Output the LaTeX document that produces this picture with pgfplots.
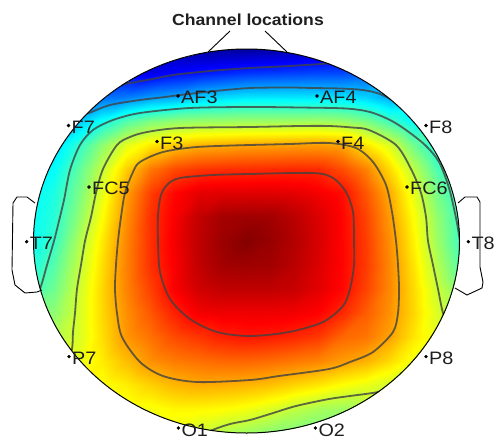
\documentclass[border=0pt]{standalone}
\usepackage{pgfplots}
\pgfplotsset{compat=1.18}
\usepackage{fontspec}
\setmainfont{Liberation Sans}[FakeStretch=1.1]
\definecolor{cline}{RGB}{65,65,65}
\definecolor{labtxt}{RGB}{30,30,30}
\begin{document}
\begin{tikzpicture}
\clip (0,0) rectangle (495pt,439pt);
\pgfplotsset{headaxis/.style={scale only axis, width=495pt, height=439pt,
  xmin=0, xmax=495, ymin=0, ymax=439, y dir=reverse, hide axis,
  at={(0,0)}, anchor=south west},
  cl/.style={draw=cline, line width=1.8pt, draw opacity=0.8, smooth, no marks}}
\begin{axis}[headaxis, colormap/jet, point meta min=0, point meta max=1]
\clip (axis cs:246.5,241) ellipse [x radius=213, y radius=192];
\addplot[surf, shader=interp, mesh/cols=19, point meta=explicit] coordinates {
(30,49) [0.08] (54,49) [0.08] (78,49) [0.08] (102,49) [0.08] (126,49) [0.08] (150,49) [0.05] (174,49) [0.04] (198,49) [0.03] (222,49) [0.03] (246,49) [0.03] (270,49) [0.035] (294,49) [0.045] (318,49) [0.06] (342,49) [0.08] (366,49) [0.12] (390,49) [0.15] (414,49) [0.15] (438,49) [0.15] (462,49) [0.15]
(30,73) [0.2] (54,73) [0.2] (78,73) [0.2] (102,73) [0.16] (126,73) [0.12] (150,73) [0.105] (174,73) [0.131] (198,73) [0.145] (222,73) [0.161] (246,73) [0.176] (270,73) [0.182] (294,73) [0.188] (318,73) [0.194] (342,73) [0.196] (366,73) [0.21] (390,73) [0.25] (414,73) [0.28] (438,73) [0.3] (462,73) [0.3]
(30,97) [0.28] (54,97) [0.28] (78,97) [0.26] (102,97) [0.23] (126,97) [0.245] (150,97) [0.275] (174,97) [0.29] (198,97) [0.323] (222,97) [0.339] (246,97) [0.352] (270,97) [0.353] (294,97) [0.352] (318,97) [0.35] (342,97) [0.348] (366,97) [0.33] (390,97) [0.29] (414,97) [0.30] (438,97) [0.31] (462,97) [0.31]
(30,121) [0.31] (54,121) [0.31] (78,121) [0.32] (102,121) [0.39] (126,121) [0.455] (150,121) [0.496] (174,121) [0.516] (198,121) [0.523] (222,121) [0.526] (246,121) [0.529] (270,121) [0.529] (294,121) [0.53] (318,121) [0.532] (342,121) [0.524] (366,121) [0.495] (390,121) [0.438] (414,121) [0.37] (438,121) [0.37] (462,121) [0.37]
(30,145) [0.34] (54,145) [0.34] (78,145) [0.42] (102,145) [0.514] (126,145) [0.597] (150,145) [0.646] (174,145) [0.678] (198,145) [0.699] (222,145) [0.706] (246,145) [0.714] (270,145) [0.716] (294,145) [0.72] (318,145) [0.722] (342,145) [0.712] (366,145) [0.65] (390,145) [0.588] (414,145) [0.483] (438,145) [0.39] (462,145) [0.39]
(30,169) [0.36] (54,169) [0.376] (78,169) [0.464] (102,169) [0.567] (126,169) [0.671] (150,169) [0.756] (174,169) [0.802] (198,169) [0.822] (222,169) [0.829] (246,169) [0.832] (270,169) [0.835] (294,169) [0.837] (318,169) [0.834] (342,169) [0.801] (366,169) [0.747] (390,169) [0.659] (414,169) [0.557] (438,169) [0.446] (462,169) [0.40]
(30,193) [0.37] (54,193) [0.403] (78,193) [0.489] (102,193) [0.601] (126,193) [0.718] (150,193) [0.813] (174,193) [0.87] (198,193) [0.90] (222,193) [0.905] (246,193) [0.905] (270,193) [0.905] (294,193) [0.90] (318,193) [0.886] (342,193) [0.863] (366,193) [0.791] (390,193) [0.705] (414,193) [0.60] (438,193) [0.487] (462,193) [0.41]
(30,217) [0.375] (54,217) [0.414] (78,217) [0.51] (102,217) [0.623] (126,217) [0.733] (150,217) [0.826] (174,217) [0.88] (198,217) [0.935] (222,217) [0.965] (246,217) [0.97] (270,217) [0.967] (294,217) [0.943] (318,217) [0.91] (342,217) [0.872] (366,217) [0.809] (390,217) [0.721] (414,217) [0.621] (438,217) [0.514] (462,217) [0.425]
(30,241) [0.38] (54,241) [0.429] (78,241) [0.54] (102,241) [0.645] (126,241) [0.743] (150,241) [0.828] (174,241) [0.885] (198,241) [0.937] (222,241) [0.973] (246,241) [0.995] (270,241) [0.977] (294,241) [0.95] (318,241) [0.915] (342,241) [0.872] (366,241) [0.816] (390,241) [0.734] (414,241) [0.634] (438,241) [0.525] (462,241) [0.43]
(30,265) [0.40] (54,265) [0.458] (78,265) [0.559] (102,265) [0.657] (126,265) [0.747] (150,265) [0.827] (174,265) [0.88] (198,265) [0.935] (222,265) [0.965] (246,265) [0.97] (270,265) [0.967] (294,265) [0.943] (318,265) [0.91] (342,265) [0.872] (366,265) [0.818] (390,265) [0.74] (414,265) [0.649] (438,265) [0.547] (462,265) [0.45]
(30,289) [0.43] (54,289) [0.483] (78,289) [0.574] (102,289) [0.665] (126,289) [0.745] (150,289) [0.812] (174,289) [0.878] (198,289) [0.92] (222,289) [0.936] (246,289) [0.937] (270,289) [0.937] (294,289) [0.93] (318,289) [0.903] (342,289) [0.868] (366,289) [0.81] (390,289) [0.74] (414,289) [0.659] (438,289) [0.571] (462,289) [0.50]
(30,313) [0.5] (54,313) [0.514] (78,313) [0.581] (102,313) [0.663] (126,313) [0.734] (150,313) [0.789] (174,313) [0.843] (198,313) [0.884] (222,313) [0.89] (246,313) [0.89] (270,313) [0.89] (294,313) [0.887] (318,313) [0.874] (342,313) [0.837] (366,313) [0.784] (390,313) [0.732] (414,313) [0.663] (438,313) [0.587] (462,313) [0.575]
(30,337) [0.55] (54,337) [0.55] (78,337) [0.586] (102,337) [0.656] (126,337) [0.727] (150,337) [0.763] (174,337) [0.802] (198,337) [0.823] (222,337) [0.845] (246,337) [0.854] (270,337) [0.849] (294,337) [0.837] (318,337) [0.82] (342,337) [0.774] (366,337) [0.76] (390,337) [0.714] (414,337) [0.648] (438,337) [0.60] (462,337) [0.60]
(30,361) [0.60] (54,361) [0.60] (78,361) [0.60] (102,361) [0.642] (126,361) [0.689] (150,361) [0.733] (174,361) [0.754] (198,361) [0.765] (222,361) [0.774] (246,361) [0.776] (270,361) [0.769] (294,361) [0.757] (318,361) [0.745] (342,361) [0.722] (366,361) [0.70] (390,361) [0.66] (414,361) [0.61] (438,361) [0.61] (462,361) [0.61]
(30,385) [0.62] (54,385) [0.62] (78,385) [0.62] (102,385) [0.62] (126,385) [0.64] (150,385) [0.67] (174,385) [0.695] (198,385) [0.706] (222,385) [0.703] (246,385) [0.697] (270,385) [0.685] (294,385) [0.666] (318,385) [0.647] (342,385) [0.623] (366,385) [0.604] (390,385) [0.58] (414,385) [0.58] (438,385) [0.58] (462,385) [0.58]
(30,409) [0.61] (54,409) [0.61] (78,409) [0.61] (102,409) [0.61] (126,409) [0.61] (150,409) [0.615] (174,409) [0.632] (198,409) [0.632] (222,409) [0.626] (246,409) [0.613] (270,409) [0.591] (294,409) [0.563] (318,409) [0.54] (342,409) [0.53] (366,409) [0.55] (390,409) [0.56] (414,409) [0.56] (438,409) [0.56] (462,409) [0.56]
(30,433) [0.6] (54,433) [0.6] (78,433) [0.6] (102,433) [0.6] (126,433) [0.6] (150,433) [0.6] (174,433) [0.6] (198,433) [0.575] (222,433) [0.55] (246,433) [0.53] (270,433) [0.51] (294,433) [0.5] (318,433) [0.49] (342,433) [0.5] (366,433) [0.53] (390,433) [0.55] (414,433) [0.55] (438,433) [0.55] (462,433) [0.55]
};
% L1
\addplot[cl] coordinates {(110,88) (125,84) (150,79.5) (173,75) (210,71) (250,68) (290,66) (336,63) (350,62)};
% L2
\addplot[cl] coordinates {(75,118) (89,113) (110,105) (140,100) (165,97) (180,95) (215,91) (250,88) (290,87.5) (313,88) (340,88.5) (363,90) (380,94) (398,103)};
% L3
\addplot[cl] coordinates {(30,310) (40,289) (47,265) (54,241) (58,225) (64,200) (70,170) (80,145) (93,130) (113,120) (140,113) (190,108) (250,107) (300,107.5) (346,108.5) (370,112) (390,120) (406,130) (425,145) (439,162) (449,188) (456,218) (460,240) (464,255)};
% L4 upper
\addplot[cl] coordinates {(66,365) (72,349) (73,332) (75,313) (77,289) (81,265) (85,241) (91,217) (96,193) (103,169) (117,145) (130,137) (147,132) (180,128) (250,127) (300,126) (329,126) (352,127.5) (369,130) (396,145) (411,169) (421,193) (426,217) (428,241) (433,265) (438,289) (443,313) (450,330)};
% L4 lower
\addplot[cl] coordinates {(395,386) (378,392) (350,396) (329,399) (296,406) (270,414) (250,420) (230,424) (210,431) (198,438)};
% L5
\addplot[cl] coordinates {(250,145) (290,144) (329,143) (356,148) (373,162) (386,185) (392,212) (396,241) (398,265) (399,289) (398,313) (393,332) (373,352) (350,362) (329,369) (279,376) (250,380) (197,382) (163,376) (140,362) (122,337) (117,313) (115,289) (116,265) (118,241) (121,217) (125,193) (133,172) (140,162) (163,152) (197,147) (250,145)};
% L6
\addplot[cl] coordinates {(250,174) (313,173) (333,178) (346,192) (353,212) (354,241) (354,265) (350,289) (343,306) (323,322) (289,332) (250,336) (217,332) (190,319) (170,299) (160,272) (158,241) (158,215) (161,195) (168,184) (180,178) (213,175) (250,174)};
\end{axis}
\begin{axis}[headaxis, clip=false]
\draw[black, line width=1pt] (axis cs:246.5,241) ellipse [x radius=213, y radius=192];
\addplot[black, line width=0.9pt, no marks] coordinates {(208,52) (230,31)};
\addplot[black, line width=0.9pt, no marks] coordinates {(287,52) (265,31)};
\addplot[black, line width=0.9pt, no marks] coordinates {(35,203) (27,197) (17,197) (13,203) (12,270) (15,285) (25,293) (37,292) (42,290)};
\addplot[black, line width=0.9pt, no marks] coordinates {(458,203) (465,197) (477,197) (480,202) (480,267) (483,282) (482,288) (467,295) (455,288)};
\addplot[only marks, mark=*, mark size=1.5pt, black,
  nodes near coords, point meta=explicit symbolic,
  nodes near coords style={anchor=west, inner sep=0pt, xshift=3pt, yshift=-1.8pt,
    text=labtxt, font=\fontsize{18}{18}\selectfont}]
  coordinates {(178,96) [AF3] (317,96) [AF4] (157,141.5) [F3] (338,141.5) [F4]
  (68.5,125.5) [F7] (426,125.5) [F8] (89,187) [FC5] (407,187) [FC6]
  (26.7,241.7) [T7] (468.3,241.7) [T8] (69,356.7) [P7] (426,356.7) [P8]
  (178.3,428) [O1] (315.3,428) [O2]};
\node[font=\bfseries\fontsize{16}{16}\selectfont, text=labtxt, inner sep=0pt] at (axis cs:248,20) {Channel locations};
\end{axis}
\end{tikzpicture}
\end{document}
